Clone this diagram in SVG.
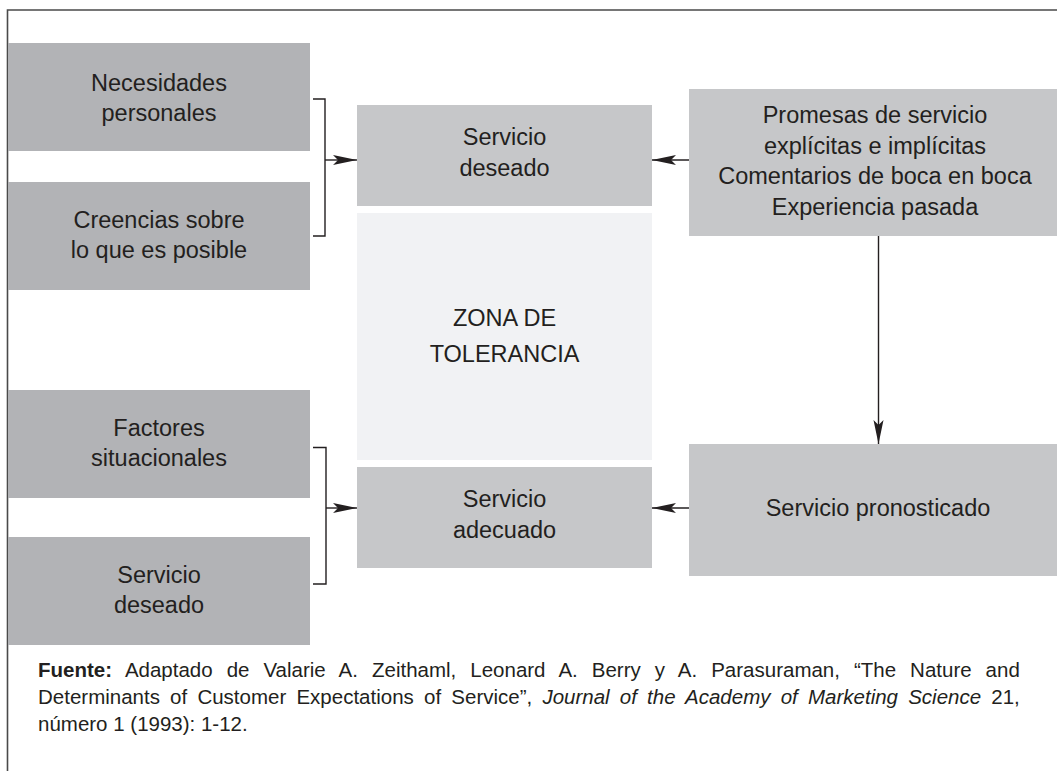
<svg xmlns="http://www.w3.org/2000/svg" width="1057" height="771" viewBox="0 0 1057 771">
<style>
.dark{fill:#b2b3b6}
.mid{fill:#c6c7c9}
.zone{fill:#f1f2f4}
.t{font-family:"Liberation Sans",Arial,sans-serif;font-size:23.5px;fill:#231f20;text-anchor:middle}
.f{font-family:"Liberation Sans",Arial,sans-serif;font-size:20.5px;fill:#231f20}
.ln{fill:none;stroke:#231f20;stroke-width:1.4}
</style>
<defs>
<marker id="ah" markerUnits="userSpaceOnUse" viewBox="0 0 24 12" refX="24" refY="6" markerWidth="24" markerHeight="12" orient="auto">
<path d="M0,1 L24,6 L0,11 L5,6 Z" fill="#231f20"/>
</marker>
</defs>
<rect width="1057" height="771" fill="#ffffff"/>
<path d="M7.5,771 V10 H1057" fill="none" stroke="#4a4a4a" stroke-width="1.6"/>

<g id="n-necesidades"><rect class="dark" x="8" y="43" width="302" height="108"/><text class="t" x="159" y="91">Necesidades</text><text class="t" x="159" y="121">personales</text></g>
<g id="n-creencias"><rect class="dark" x="8" y="182" width="302" height="108"/><text class="t" x="159" y="228">Creencias sobre</text><text class="t" x="159" y="258">lo que es posible</text></g>
<g id="n-factores"><rect class="dark" x="8" y="390" width="302" height="108"/><text class="t" x="159" y="436">Factores</text><text class="t" x="159" y="466">situacionales</text></g>
<g id="n-servdes2"><rect class="dark" x="8" y="537" width="302" height="108"/><text class="t" x="159" y="583">Servicio</text><text class="t" x="159" y="613">deseado</text></g>

<g id="n-deseado"><rect class="mid" x="357" y="105" width="295" height="101"/><text class="t" x="504.5" y="145">Servicio</text><text class="t" x="504.5" y="176">deseado</text></g>
<g id="n-zona"><rect class="zone" x="357" y="213" width="295" height="247"/><text class="t" x="504.5" y="326">ZONA DE</text><text class="t" x="504.5" y="362">TOLERANCIA</text></g>
<g id="n-adecuado"><rect class="mid" x="357" y="467" width="295" height="101"/><text class="t" x="504.5" y="507">Servicio</text><text class="t" x="504.5" y="538">adecuado</text></g>

<g id="n-promesas"><rect class="mid" x="689" y="89" width="368" height="147"/><text class="t" x="875" y="123">Promesas de servicio</text><text class="t" x="875" y="154">explícitas e implícitas</text><text class="t" x="875" y="184">Comentarios de boca en boca</text><text class="t" x="875" y="215">Experiencia pasada</text></g>
<g id="n-pronosticado"><rect class="mid" x="689" y="444" width="368" height="132"/><text class="t" x="878" y="516">Servicio pronosticado</text></g>

<g id="connectors">
<path class="ln" d="M313,99 H325 V236 H313"/>
<path class="ln" d="M325,160 H357" marker-end="url(#ah)"/>
<path class="ln" d="M313,447.5 H326 V584 H313"/>
<path class="ln" d="M326,508 H357" marker-end="url(#ah)"/>
<path class="ln" d="M689,160 H652" marker-end="url(#ah)"/>
<path class="ln" d="M689,508 H652" marker-end="url(#ah)"/>
<path class="ln" d="M878.5,236 V444" marker-end="url(#ah)"/>
</g>

<g id="footer">
<text class="f" x="38" y="677" word-spacing="8.3"><tspan font-weight="bold">Fuente:</tspan> Adaptado de Valarie A. Zeithaml, Leonard A. Berry y A. Parasuraman, “The Nature and</text>
<text class="f" x="38" y="704" word-spacing="4.5">Determinants of Customer Expectations of Service”, <tspan font-style="italic">Journal of the Academy of Marketing Science</tspan> 21,</text>
<text class="f" x="38" y="731">número 1 (1993): 1-12.</text>
</g>
</svg>
